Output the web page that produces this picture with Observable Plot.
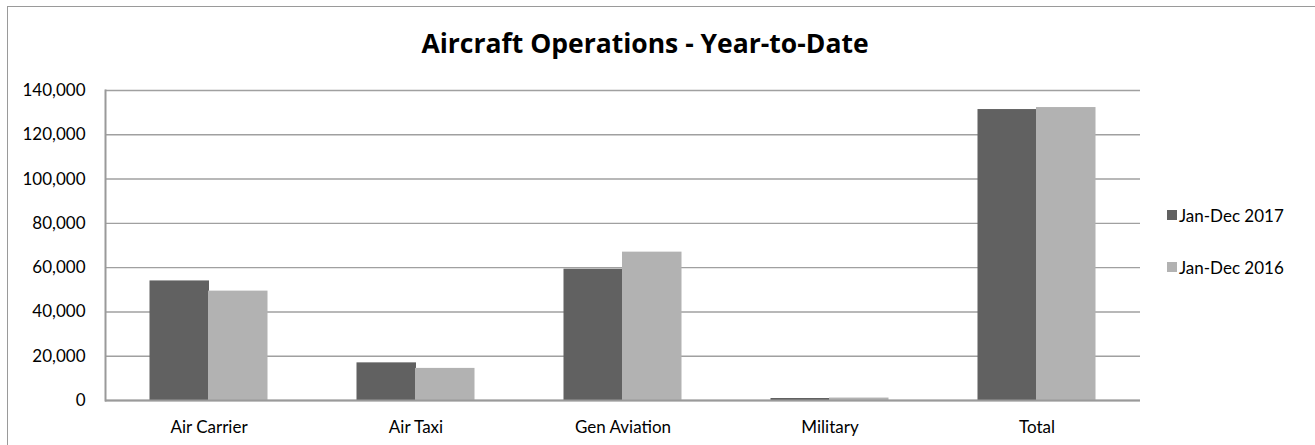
<!DOCTYPE html>
<html>
<head>
<meta charset="utf-8">
<script src="https://cdn.jsdelivr.net/npm/d3@7"></script>
<script src="https://cdn.jsdelivr.net/npm/@observablehq/plot@0.6"></script>
<style>
  html, body { margin: 0; padding: 0; background: #fff; overflow: hidden; }
  body { width: 1315px; height: 445px; position: relative; font-family: Lato, "Open Sans", sans-serif; }
  #frame { position: absolute; left: 7px; top: 6px; width: 1320px; height: 450px; border: 1.5px solid #9a9a9a; box-sizing: border-box; }
  #title { position: absolute; left: 0; top: 27.5px; width: 1290px; text-align: center; font-family: "Open Sans", Lato, sans-serif; font-size: 26.5px; line-height: 30px; font-weight: bold; color: #000; height: 30px; }
  #chart { position: absolute; left: 0; top: 70px; }
  #legend { position: absolute; left: 1167px; top: 0; }
  .item { position: absolute; left: 0; white-space: nowrap; font-size: 17px; color: #000; display: flex; align-items: center; height: 20px; }
  .sw { width: 10px; height: 10px; margin-right: 2px; }
</style>
</head>
<body>
<div id="frame"></div>
<div id="title">Aircraft Operations - Year-to-Date</div>
<div id="chart"></div>
<div id="legend"></div>
<script>
const categories = ["Air Carrier", "Air Taxi", "Gen Aviation", "Military", "Total"];
const series = ["Jan-Dec 2017", "Jan-Dec 2016"];
const values2017 = [54000, 17000, 59300, 900, 131400];
const values2016 = [49400, 14500, 67000, 1100, 132300];
const yTicks = [0, 20000, 40000, 60000, 80000, 100000, 120000, 140000];
const colors = ["#616161", "#b2b2b2"];

const rows2017 = categories.map((c, i) => ({category: c, series: series[0], value: values2017[i]}));
const rows2016 = categories.map((c, i) => ({category: c, series: series[1], value: values2016[i]}));

const chart = Plot.plot({
  width: 1150,
  height: 375,
  marginLeft: 105,
  marginRight: 10,
  marginTop: 20,
  marginBottom: 45,
  style: {fontFamily: "Lato, 'Open Sans', sans-serif", fontSize: "17px", color: "#000", background: "transparent"},
  x: {domain: categories, paddingInner: 0.42995, paddingOuter: 0.21498, round: false},
  y: {domain: [0, 140000]},
  color: {domain: series, range: colors},
  marks: [
    Plot.gridY(yTicks, {stroke: "#a0a0a0", strokeOpacity: 1, strokeWidth: 1.4}),
    Plot.barY(rows2017, {x: "category", y: "value", fill: "series", insetLeft: 0, insetRight: 58.5}),
    Plot.barY(rows2016, {x: "category", y: "value", fill: "series", insetLeft: 58.5, insetRight: 0}),
    Plot.ruleY([0], {stroke: "#9a9a9a", strokeWidth: 2}),
    Plot.frame({anchor: "left", stroke: "#9a9a9a", strokeWidth: 2}),
    Plot.axisY({ticks: yTicks, tickFormat: d3.format(","), tickSize: 0, tickPadding: 20, label: null, fontSize: 17}),
    Plot.axisX({tickSize: 0, tickPadding: 20, label: null, fontSize: 17})
  ]
});
document.getElementById("chart").appendChild(chart);

const legend = document.getElementById("legend");
const legendTops = [205, 257];
series.forEach((s, i) => {
  const item = document.createElement("div");
  item.className = "item";
  item.style.top = legendTops[i] + "px";
  const sw = document.createElement("div");
  sw.className = "sw";
  sw.style.background = colors[i];
  const label = document.createElement("span");
  label.textContent = s;
  item.appendChild(sw);
  item.appendChild(label);
  legend.appendChild(item);
});
</script>
</body>
</html>
